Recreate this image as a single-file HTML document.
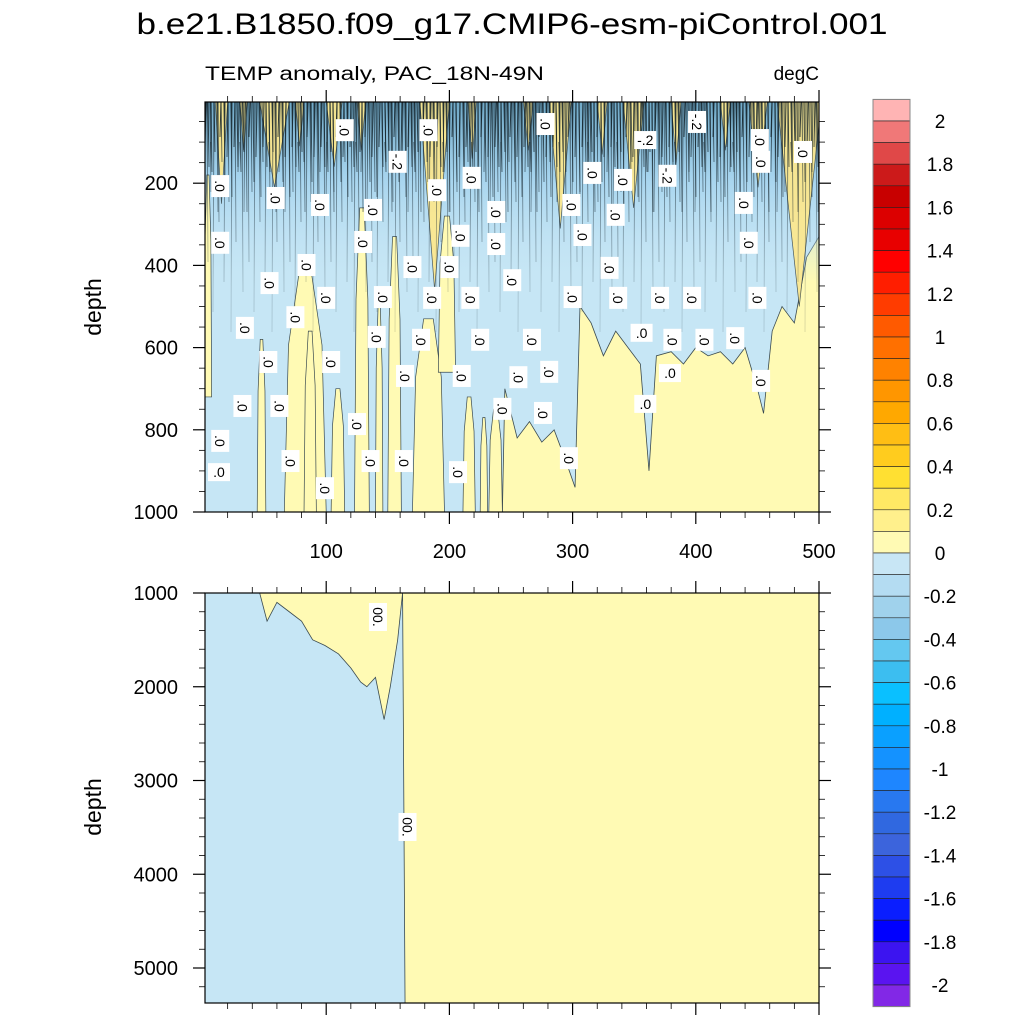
<!DOCTYPE html>
<html><head><meta charset="utf-8"><style>
html,body{margin:0;padding:0;background:#fff}
svg{display:block;font-family:"Liberation Sans",sans-serif}
</style></head><body>
<svg id="chart" width="1024" height="1024" viewBox="0 0 1024 1024">
<defs>
<pattern id="noise" x="0" y="102" width="41" height="500" patternUnits="userSpaceOnUse">
<g stroke="#1a2a33" stroke-width="0.9" fill="none">
<path d="M2 0 L3 160 M5 0 L6 90 M9 0 L8 210 M13 0 L14 120 M16 0 L17 60 M20 0 L19 180 M23 0 L24 100 M27 0 L26 230 M30 0 L31 140 M34 0 L33 70 M37 0 L38 190 M40 0 L39 110"/>
</g></pattern>
<pattern id="noise2" x="7" y="102" width="29" height="500" patternUnits="userSpaceOnUse">
<g stroke="#0f1d24" stroke-width="1" fill="none">
<path d="M1 0 L2 70 L1 40 M4 0 L5 50 M7 0 L8 110 M11 0 L10 35 M14 0 L15 80 M18 0 L17 55 M21 0 L22 95 M25 0 L24 45 M27 0 L28 65"/>
</g></pattern>
<linearGradient id="fade" x1="0" y1="0" x2="0" y2="1">
<stop offset="0" stop-color="#fff" stop-opacity="0.95"/>
<stop offset="0.15" stop-color="#fff" stop-opacity="0.6"/>
<stop offset="0.45" stop-color="#fff" stop-opacity="0.2"/>
<stop offset="1" stop-color="#fff" stop-opacity="0"/>
</linearGradient>
<mask id="fadeMask"><rect x="205" y="102" width="614" height="410" fill="url(#fade)"/></mask>
<linearGradient id="blueTop" x1="0" y1="0" x2="0" y2="1">
<stop offset="0" stop-color="#6fa8c6"/>
<stop offset="0.25" stop-color="#a6d4ee"/>
<stop offset="0.6" stop-color="#c4e4f4" stop-opacity="0"/>
</linearGradient>
<clipPath id="clipTop"><rect x="205" y="102" width="614" height="410"/></clipPath>
<clipPath id="clipBot"><rect x="205" y="593" width="614" height="410"/></clipPath>
</defs>
<text x="512" y="34" text-anchor="middle" font-size="30" textLength="751" lengthAdjust="spacingAndGlyphs">b.e21.B1850.f09_g17.CMIP6-esm-piControl.001</text>
<text x="205" y="80" font-size="19" textLength="339" lengthAdjust="spacingAndGlyphs">TEMP anomaly, PAC_18N-49N</text>
<text x="819" y="80" font-size="19" text-anchor="end">degC</text>
<g id="topPanel"></g>
<g id="botPanel"></g>
<g id="cbar"></g>
</svg>
<script>
// ---- data ----
const xTicks=[100,200,300,400,500];
const topDepthTicks=[200,400,600,800,1000];
const botDepthTicks=[1000,2000,3000,4000,5000];
const blueEdgeX=[243,245,255,265,275,285,295,302,306,315,325,335,345,355,362,368,380,390,400,410,420,430,440,450,455,462,470,480,490,500];
const blueEdgeD=[1000,700,820,780,830,800,880,940,500,540,620,560,600,640,900,620,610,640,600,620,610,640,600,700,760,560,500,540,380,330];
const colX0=[1,44,66,104,123,150,170,191,211,225,232,82,140];
const colX1=[7,51,100,115,135,161,196,205,221,231,243,92,146];
const colTop=[180,580,420,700,260,330,530,280,720,770,750,560,500];
const colBot=[720,1000,1000,1000,1000,1000,1000,660,1000,1000,1000,1000,1000];
const spikeX0=[10,30,46,75,100,125,176,215,260,281,320,341,380,420,443,466];
const spikeX1=[20,36,70,82,113,132,200,222,268,299,328,358,388,428,458,502];
const spikeD=[250,120,210,110,160,120,460,140,120,310,130,260,150,120,210,500];
const wedgeX=[46,52,60,70,80,89,99,110,120,128,133,140,147,152,158,162];
const wedgeD=[1000,1300,1100,1200,1300,1500,1560,1650,1800,1950,2000,1900,2350,2000,1500,1000];
const zeroLineX=[162,164];
const zeroLineD=[1000,5375];
const lblX=[115,183,278,401,452,487,158,359,377,14,59,95,138,190,218,238,299,316,341,335,439,453,14,84,130,209,238,308,330,443,54,34,75,100,146,170,200,186,217,251,300,337,371,397,450,141,177,225,267,356,381,407,432,53,104,164,210,256,281,379,453,32,62,125,243,276,359,14,13,71,136,163,207,297,99];
const lblD=[71,71,56,51,95,124,148,95,182,207,236,253,265,217,187,270,253,175,192,277,248,148,345,399,343,328,348,326,406,345,443,552,526,479,477,404,404,479,479,436,477,479,479,479,479,574,581,581,581,564,581,581,577,635,635,669,669,672,659,662,681,742,742,786,749,759,737,827,903,876,876,876,903,869,942];
const lblT=[".0",".0",".0","-.2",".0",".0","-.2","-.2","-.2"];
const upright=[356,379,359,13];
const botLblX=[142,166];
const botLblD=[1256,3496];
const botLblT=["00.","00."];
const cbLabels=["2","1.8","1.6","1.4","1.2","1","0.8","0.6","0.4","0.2","0","-0.2","-0.4","-0.6","-0.8","-1","-1.2","-1.4","-1.6","-1.8","-2"];
const cbColors=["#ffb4b4","#f07878","#e04848","#cc1a1a","#c80000","#dc0000","#e80000","#ff0000","#ff1e00","#ff3c00","#ff5a00","#ff7000","#ff8200","#ff9600","#ffa800","#ffbe14","#ffcc1e","#ffe032","#ffe864","#fff08c","#fffab4",
"#c8e6f5","#b4dcf2","#a0d2ec","#8cc8ea","#64c8f0","#3cbef0","#0ac0ff","#00b0ff","#0aa0ff","#1492ff","#1e86ff","#2878f0","#3068e0","#3c64dc","#2d50e6","#1e3cf0","#0a1eff","#0000ff","#3c14f0","#5a14f0","#8228e6"];
// ---- axes ----
const X0=203, XS=1.232;
const sx=v=>X0+v*XS;
const syT=d=>101+d*0.411;
const syB=d=>593+(d-1000)*0.09375;
const NS="http://www.w3.org/2000/svg";
function mk(p,tag,attrs){const e=document.createElementNS(NS,tag);for(const k in attrs)e.setAttribute(k,attrs[k]);p.appendChild(e);return e;}
const YEL="#fffab4", BLU="#c6e6f5", LINE="#3a4a50";
const topG=document.getElementById('topPanel'), botG=document.getElementById('botPanel'), cbG=document.getElementById('cbar');

const gT=mk(topG,'g',{'clip-path':'url(#clipTop)'});
let r=mk(gT,'rect',{x:205,y:102,width:614,height:410,fill:YEL});


let pts=[[sx(0),syT(0)],[sx(0),syT(1000)]];
for(let i=0;i<blueEdgeX.length;i++)pts.push([sx(blueEdgeX[i]),syT(blueEdgeD[i])]);
pts.push([sx(505),syT(blueEdgeD[blueEdgeD.length-1])],[sx(505),syT(0)]);
let p=mk(gT,'polygon',{points:pts.map(q=>q.join(',')).join(' '),fill:BLU,stroke:LINE,'stroke-width':0.8});


let bt=mk(gT,'rect',{x:205,y:102,width:614,height:300,fill:'url(#blueTop)'});


for(let i=0;i<colX0.length;i++){
  const a=sx(colX0[i]),b=sx(colX1[i]),t=syT(colTop[i]),bb=syT(colBot[i]);
  const m=(a+b)/2,w=(b-a);
  const e=mk(gT,'polygon',{points:`${a},${bb} ${a+w*0.1},${t+(bb-t)*0.3} ${a+w*0.35},${t} ${b-w*0.35},${t} ${b-w*0.1},${t+(bb-t)*0.3} ${b},${bb}`,fill:YEL,stroke:LINE,'stroke-width':0.7});
  
  
}
for(let i=0;i<spikeX0.length;i++){
  const a=sx(spikeX0[i]),b=sx(spikeX1[i]),t=syT(spikeD[i]);
  const e=mk(gT,'polygon',{points:`${a},102 ${(a+b)/2},${t} ${b},102`,fill:'#ffe88a',stroke:LINE,'stroke-width':0.7,opacity:0.9});
  
  
}
let nz=mk(gT,'rect',{x:205,y:102,width:614,height:410,fill:'url(#noise)',mask:'url(#fadeMask)'});


let nz2=mk(gT,'rect',{x:205,y:102,width:614,height:410,fill:'url(#noise2)',mask:'url(#fadeMask)'});


for(let i=0;i<lblX.length;i++){
  const cx=sx(lblX[i]),cy=syT(lblD[i]);
  const t=i<lblT.length?lblT[i]:".0";
  const isUp=upright.includes(lblX[i])&&(lblX[i]!==13||lblD[i]===903);
  const g=mk(gT,'g',{transform:`translate(${cx},${cy})`+(isUp?'':' rotate(90)')});
  
  
  mk(g,'rect',{x:-11,y:-9,width:22,height:18,fill:'#fff'});
  const tx=mk(g,'text',{x:0,y:5,'font-size':14,'text-anchor':'middle'});tx.textContent=t;
}
mk(topG,'rect',{x:205,y:102,width:614,height:410,fill:'none',stroke:'#000','stroke-width':1.2});

const gB=mk(botG,'g',{'clip-path':'url(#clipBot)'});
let rb=mk(gB,'rect',{x:205,y:593,width:614,height:410,fill:BLU});


let wp=[];
for(let i=0;i<wedgeX.length;i++)wp.push([sx(wedgeX[i]),syB(wedgeD[i])]);
wp.push([sx(zeroLineX[0]),syB(zeroLineD[0])],[sx(zeroLineX[1]),syB(zeroLineD[1])],[sx(505),syB(5400)],[sx(505),syB(1000)]);
let yw=mk(gB,'polygon',{points:wp.map(q=>q.join(',')).join(' '),fill:YEL,stroke:LINE,'stroke-width':0.8});


for(let i=0;i<botLblX.length;i++){
  const g=mk(gB,'g',{transform:`translate(${sx(botLblX[i])},${syB(botLblD[i])}) rotate(90)`});
  
  
  mk(g,'rect',{x:-14,y:-9,width:28,height:18,fill:'#fff'});
  const tx=mk(g,'text',{x:0,y:5,'font-size':14,'text-anchor':'middle'});tx.textContent=botLblT[i];
}
mk(botG,'rect',{x:205,y:593,width:614,height:410,fill:'none',stroke:'#000','stroke-width':1.2});

function xAxis(par,yTop,yBot,labels){
  for(let v=20;v<=500;v+=20){
    const x=sx(v),maj=v%100===0,L=maj?12:6;
    mk(par,'line',{x1:x,y1:yTop,x2:x,y2:yTop-L,stroke:'#000','stroke-width':maj?1.2:0.8});
    mk(par,'line',{x1:x,y1:yBot,x2:x,y2:yBot+L,stroke:'#000','stroke-width':maj?1.2:0.8});
  }
  if(labels)xTicks.forEach(v=>{const t=mk(par,'text',{x:sx(v),y:yBot+46,'font-size':20,'text-anchor':'middle'});t.textContent=v;
    
    });
}
xAxis(topG,102,512,true);xAxis(botG,593,1003,false);
for(let d=50;d<=1000;d+=50){const y=syT(d),maj=d%200===0,L=maj?12:6;
  mk(topG,'line',{x1:205,y1:y,x2:205-L,y2:y,stroke:'#000','stroke-width':maj?1.2:0.8});
  mk(topG,'line',{x1:819,y1:y,x2:819+L,y2:y,stroke:'#000','stroke-width':maj?1.2:0.8});}
topDepthTicks.forEach(d=>{const t=mk(topG,'text',{x:178,y:syT(d)+7,'font-size':20,'text-anchor':'end'});t.textContent=d;
  
  });
for(let d=1000;d<=5375;d+=200){const y=syB(d),maj=d%1000===0,L=maj?12:6;
  mk(botG,'line',{x1:205,y1:y,x2:205-L,y2:y,stroke:'#000','stroke-width':maj?1.2:0.8});
  mk(botG,'line',{x1:819,y1:y,x2:819+L,y2:y,stroke:'#000','stroke-width':maj?1.2:0.8});}
botDepthTicks.forEach(d=>{const t=mk(botG,'text',{x:178,y:syB(d)+7,'font-size':20,'text-anchor':'end'});t.textContent=d;
  
  });
[[307,topG],[807,botG]].forEach(([y,par])=>{const t=mk(par,'text',{x:101,y:y,'font-size':23,'text-anchor':'middle',transform:`rotate(-90 101 ${y})`});t.textContent='depth';
  
  });

const CB0=99.4,CBH=21.6;
cbColors.forEach((c,i)=>{const e=mk(cbG,'rect',{x:873,y:CB0+i*CBH,width:37,height:CBH,fill:c,stroke:'#222','stroke-width':0.6});
  
  });
mk(cbG,'rect',{x:873,y:CB0,width:37,height:CBH*42,fill:'none',stroke:'#888','stroke-width':1});
cbLabels.forEach((l,i)=>{const t=mk(cbG,'text',{x:940,y:CB0+CBH*(1+2*i)+7,'font-size':19,'text-anchor':'middle'});t.textContent=l;
  
  });
</script>
</body></html>
